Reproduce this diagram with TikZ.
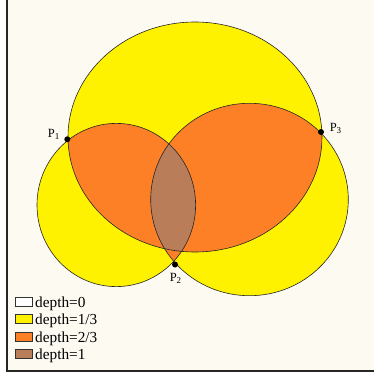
\documentclass[tikz,border=0pt]{standalone}
\usepackage{fontspec}
\setmainfont{Liberation Serif}
\definecolor{bg}{RGB}{253,250,242}
\definecolor{yel}{RGB}{255,242,0}
\definecolor{org}{RGB}{253,128,38}
\definecolor{brn}{RGB}{186,125,90}
\newcommand{\Plab}[1]{P\raisebox{-0.35ex}{\fontsize{9}{9}\selectfont #1}}
\begin{document}
\begin{tikzpicture}[x=1pt,y=-1pt,
  edge/.style={draw=black!85, line width=0.6pt},
  ptdot/.style={circle, fill=black, inner sep=0pt, minimum size=6pt},
  lbl/.style={font=\fontsize{12.5}{12.5}\selectfont, inner sep=0pt},
  legbox/.style={draw=black!80, line width=0.6pt, minimum width=17pt, minimum height=9pt, inner sep=0pt},
  legtxt/.style={font=\fontsize{15.3}{15.3}\selectfont, anchor=base west, inner sep=0pt}]
\useasboundingbox (0,0) rectangle (373,377);
\fill[white] (0,0) rectangle (373,377);
\fill[bg] (7,-5) rectangle (380,370.5);
\draw[line width=2pt, black!85] (7,-5) rectangle (380,370.5);
% regions
\fill[yel] (195,137) ellipse [x radius=127, y radius=115];
\fill[yel] (116.3,205) ellipse [x radius=79.3, y radius=81.6];
\fill[yel] (249.5,199.5) ellipse [x radius=98.8, y radius=96.2];
\begin{scope}
  \clip (195,137) ellipse [x radius=127, y radius=115];
  \fill[org] (116.3,205) ellipse [x radius=79.3, y radius=81.6];
  \fill[org] (249.5,199.5) ellipse [x radius=98.8, y radius=96.2];
\end{scope}
\begin{scope}
  \clip (116.3,205) ellipse [x radius=79.3, y radius=81.6];
  \fill[org] (249.5,199.5) ellipse [x radius=98.8, y radius=96.2];
\end{scope}
\begin{scope}
  \clip (195,137) ellipse [x radius=127, y radius=115];
  \clip (116.3,205) ellipse [x radius=79.3, y radius=81.6];
  \fill[brn] (249.5,199.5) ellipse [x radius=98.8, y radius=96.2];
\end{scope}
\draw[edge] (195,137) ellipse [x radius=127, y radius=115];
\draw[edge] (116.3,205) ellipse [x radius=79.3, y radius=81.6];
\draw[edge] (249.5,199.5) ellipse [x radius=98.8, y radius=96.2];
% points
\node[ptdot] (p1) at (67.3,139.3) {};
\node[ptdot] (p2) at (175,264.5) {};
\node[ptdot] (p3) at (321,132) {};
\node[lbl] (l1) at (53.7,134.5) {\Plab{1}};
\node[lbl] (l2) at (175.5,278.5) {\Plab{2}};
\node[lbl] (l3) at (335.5,128.5) {\Plab{3}};
% legend
\node[legbox, fill=white] (b0) at (23.4,301.7) {};
\node[legbox, fill=yel] (b1) at (23.4,319.1) {};
\node[legbox, fill=org] (b2) at (23.4,336.5) {};
\node[legbox, fill=brn] (b3) at (23.4,353.9) {};
\node[legtxt] (t0) at (35,307.3) {depth=0};
\node[legtxt] (t1) at (35,324.7) {depth=1/3};
\node[legtxt] (t2) at (35,342.1) {depth=2/3};
\node[legtxt] (t3) at (35,359.5) {depth=1};
\end{tikzpicture}
\end{document}
